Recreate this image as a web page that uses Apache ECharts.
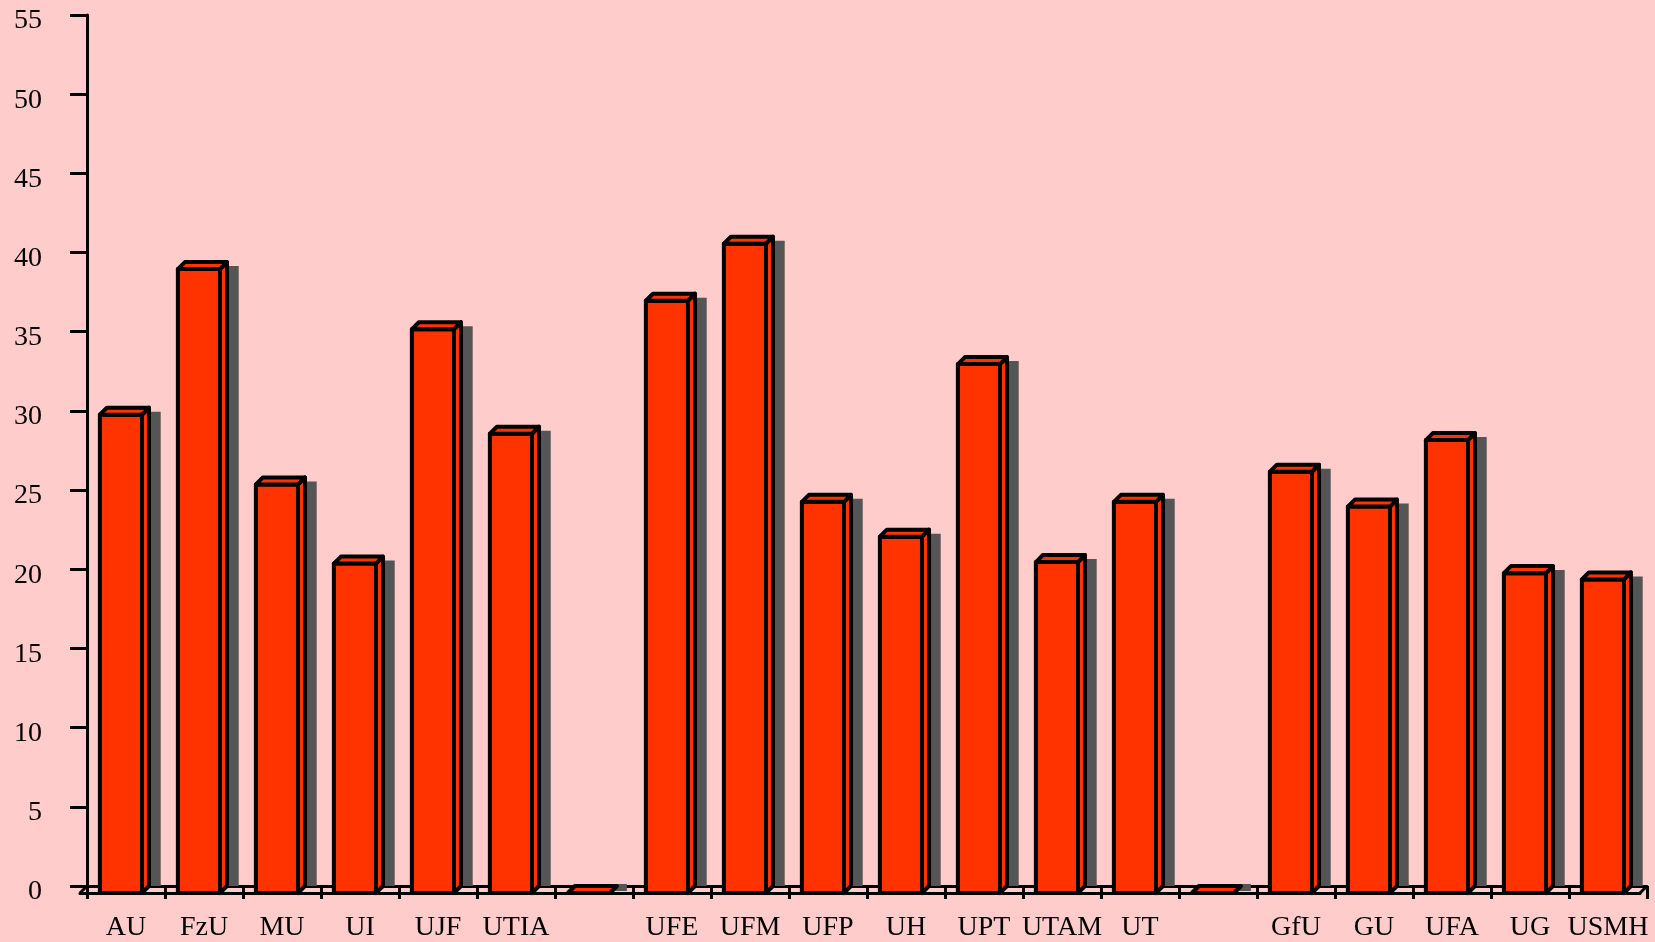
<!DOCTYPE html>
<html>
<head>
<meta charset="utf-8">
<script src="https://cdn.jsdelivr.net/npm/echarts@6/dist/echarts.min.js"></script>
<style>
html,body{margin:0;padding:0;background:#FFCCCC;}
#chart{width:1655px;height:942px;}
</style>
</head>
<body>
<div id="chart"></div>
<script>
const categories = ['AU','FzU','MU','UI','UJF','UTIA','','UFE','UFM','UFP','UH','UPT','UTAM','UT','','GfU','GU','UFA','UG','USMH'];
const values = [30.2, 39.4, 25.8, 20.8, 35.6, 29.0, 0, 37.4, 41.0, 24.7, 22.5, 33.4, 20.9, 24.7, 0, 26.6, 24.4, 28.6, 20.2, 19.8];
const yTicks = { min: 0, max: 55, interval: 5 };

const RED = '#FF3300';
const SHADOW = '#555555';
const LW = 4;

const chart = echarts.init(document.getElementById('chart'), null, {renderer: 'canvas'});

function renderBar(params, api) {
  const i = api.value(0);
  const v = api.value(1);
  const top = api.coord([i, v]);
  const base = api.coord([i, 0]);
  const band = api.size([1, 0])[0];
  const d = band * 0.09;
  const c = top[0];
  const fl = c - band * 0.335;
  const fr = c + band * 0.205;
  const ftY = top[1] + d;
  const fbY = base[1] + d;
  const sx = band * 0.15, sy = 4;
  const children = [];
  const strokeStyle = {fill: RED, stroke: '#000', lineWidth: LW, lineJoin: 'round'};
  if (v > 0) {
    children.push({type: 'polygon', shape: {points: [
      [fl + d + sx, top[1] + sy], [fr + d + sx, top[1] + sy],
      [fr + d + sx, base[1]], [fl + d + sx, base[1]]]},
      style: {fill: SHADOW}});
  } else {
    children.push({type: 'polygon', shape: {points: [
      [fr + 1, fbY - 2], [fr + d + sx * 0.5 + 4, fbY - 2],
      [fr + d + sx * 0.5 + 4, base[1] - 2], [fr + d, base[1] - 2]]},
      style: {fill: SHADOW}});
  }
  if (v > 0) {
    children.push({type: 'polygon', shape: {points: [[fl, ftY], [fr, ftY], [fr, fbY], [fl, fbY]]}, style: strokeStyle});
    children.push({type: 'polygon', shape: {points: [[fr, ftY], [fr + d, ftY - d], [fr + d, fbY - d], [fr, fbY]]}, style: strokeStyle});
  }
  children.push({type: 'polygon', shape: {points: [[fl, ftY], [fr, ftY], [fr + d, ftY - d], [fl + d, ftY - d]]}, style: strokeStyle});
  if (params.dataIndex === 0) {
    const bx = c - band / 2;
    children.push({type: 'line', shape: {x1: bx, y1: base[1], x2: bx - d, y2: fbY}, style: {stroke: '#000', lineWidth: 3}});
  }
  if (params.dataIndex === categories.length - 1) {
    const bx = c + band / 2;
    children.push({type: 'line', shape: {x1: bx, y1: base[1], x2: bx - d, y2: fbY}, style: {stroke: '#000', lineWidth: 3}});
  }
  return {type: 'group', children};
}

const option = {
  backgroundColor: '#FFCCCC',
  animation: false,
  grid: [
    {left: 87, right: 8, top: 15, bottom: 56},
    {left: 80, right: 15, top: 22, bottom: 49}
  ],
  xAxis: [
    {
      type: 'category', gridIndex: 0, data: categories, boundaryGap: true,
      axisLine: {show: true, lineStyle: {color: '#000', width: 3}},
      axisTick: {show: true, length: 13, alignWithLabel: false, interval: 0, lineStyle: {color: '#000', width: 3}},
      axisLabel: {show: true, interval: 0, margin: 28, color: '#000', fontFamily: 'Liberation Serif', fontSize: 28}
    },
    {
      type: 'category', gridIndex: 1, data: categories, boundaryGap: true,
      axisLine: {show: true, lineStyle: {color: '#000', width: 3}},
      axisTick: {show: false}, axisLabel: {show: false}
    }
  ],
  yAxis: [
    {
      type: 'value', gridIndex: 0, min: yTicks.min, max: yTicks.max, interval: yTicks.interval,
      axisLine: {show: true, lineStyle: {color: '#000', width: 3}},
      axisTick: {show: true, length: 17, lineStyle: {color: '#000', width: 3}},
      splitLine: {show: false},
      axisLabel: {margin: 45, color: '#000', fontFamily: 'Liberation Serif', fontSize: 28, verticalAlign: 'top', lineHeight: 12}
    },
    {
      type: 'value', gridIndex: 1, min: yTicks.min, max: yTicks.max, interval: yTicks.interval, show: false
    }
  ],
  series: [{
    type: 'custom',
    xAxisIndex: 0, yAxisIndex: 0,
    clip: false,
    renderItem: renderBar,
    data: values.map((v, i) => [i, v])
  }]
};
chart.setOption(option);
</script>
</body>
</html>
